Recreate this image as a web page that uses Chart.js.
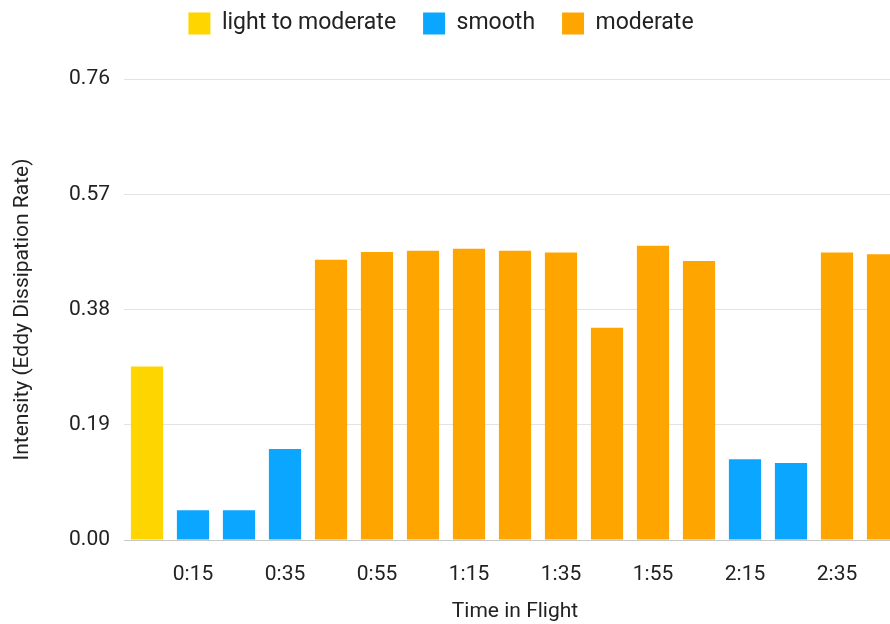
<!DOCTYPE html>
<html>
<head>
<meta charset="utf-8">
<script src="https://cdn.jsdelivr.net/npm/chart.js@4.4.0/dist/chart.umd.min.js"></script>
<style>
  html, body { margin: 0; padding: 0; overflow: hidden; background: #fff; }
  #wrap { width: 910px; height: 624px; }
</style>
</head>
<body>
<div id="wrap"><canvas id="chart"></canvas></div>
<script>
const times = ['0:05', '0:15', '0:25', '0:35', '0:45', '0:55', '1:05', '1:15', '1:25',
               '1:35', '1:45', '1:55', '2:05', '2:15', '2:25', '2:35', '2:45'];
const lightToModerate = [0.286, null, null, null, null, null, null, null, null,
                         null, null, null, null, null, null, null, null];
const smooth = [null, 0.049, 0.049, 0.150, null, null, null, null, null,
                null, null, null, null, 0.133, 0.127, null, null];
const moderate = [null, null, null, null, 0.462, 0.475, 0.477, 0.480, 0.477,
                  0.474, 0.350, 0.485, 0.460, null, null, 0.474, 0.471];
const yTicks = [0, 0.19, 0.38, 0.57, 0.76];

Chart.defaults.font.family = 'Roboto, "Noto Sans", sans-serif';
Chart.defaults.color = '#222';

// fixed legend height and a small left nudge so it sits like the original
const legendFix = {
  id: 'legendFix',
  afterInit(chart) {
    const l = chart.legend;
    const fit = l.fit;
    l.fit = function () { fit.call(this); this.height = 94; };
  },
  afterLayout(chart) {
    const l = chart.legend;
    l.left -= 12; l.right -= 12;
  }
};

new Chart(document.getElementById('chart'), {
  type: 'bar',
  data: {
    labels: times,
    datasets: [
      { label: 'light to moderate', data: lightToModerate, backgroundColor: '#FFD500' },
      { label: 'smooth', data: smooth, backgroundColor: '#0BA6FF' },
      { label: 'moderate', data: moderate, backgroundColor: '#FFA500' }
    ]
  },
  options: {
    responsive: true,
    maintainAspectRatio: false,
    animation: false,
    layout: { padding: { top: -15, right: 4, left: 0, bottom: 0 } },
    datasets: { bar: { categoryPercentage: 1, barPercentage: 0.7 } },
    plugins: {
      tooltip: { enabled: false },
      legend: {
        position: 'top',
        labels: { boxWidth: 22, boxHeight: 22, padding: 27, font: { size: 23 }, color: '#222' }
      }
    },
    scales: {
      x: {
        stacked: true,
        grid: { display: false },
        border: { display: false },
        ticks: {
          autoSkip: false, maxRotation: 0, padding: 14, font: { size: 21 },
          callback: (v, i) => (i % 2 === 1 ? times[i] : '')
        },
        title: { display: true, text: 'Time in Flight', font: { size: 21 }, padding: { top: 0, bottom: 0 } },
        afterFit: s => { s.height = 84; }
      },
      y: {
        stacked: true,
        min: 0,
        max: 0.76,
        afterBuildTicks: s => { s.ticks = yTicks.map(v => ({ value: v })); },
        grid: {
          drawTicks: false,
          color: c => (c.tick && c.tick.value === 0 ? '#c8c8c8' : '#e3e3e3')
        },
        border: { display: false },
        ticks: { padding: 14, font: { size: 21 }, callback: v => v.toFixed(2) },
        title: { display: true, text: 'Intensity (Eddy Dissipation Rate)', font: { size: 21 }, padding: { top: 10, bottom: 0 } },
        afterFit: s => { s.width = 124; }
      }
    }
  },
  plugins: [legendFix]
});
</script>
</body>
</html>
